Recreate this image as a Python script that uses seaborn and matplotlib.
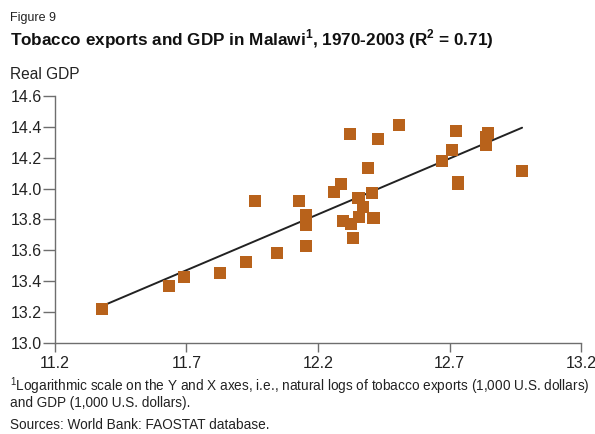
import matplotlib
matplotlib.use("Agg")
import matplotlib.pyplot as plt
import seaborn as sns
import pandas as pd

# Natural logs of tobacco exports (x) and real GDP (y), Malawi 1970-2003
tobacco_exports = [
    11.377, 11.634, 11.689, 11.827, 11.926, 11.959, 12.044, 12.128,
    12.155, 12.155, 12.155, 12.261, 12.289, 12.296, 12.327, 12.334,
    12.322, 12.354, 12.372, 12.357, 12.391, 12.404, 12.411, 12.429,
    12.509, 12.670, 12.710, 12.723, 12.732, 12.732, 12.838, 12.838,
    12.848, 12.976,
]
real_gdp = [
    13.218, 13.368, 13.426, 13.452, 13.521, 13.921, 13.580, 13.917,
    13.827, 13.762, 13.627, 13.980, 14.029, 13.789, 13.770, 13.677,
    14.353, 13.937, 13.878, 13.817, 14.135, 13.969, 13.811, 14.323,
    14.410, 14.178, 14.250, 14.373, 14.045, 14.030, 14.335, 14.285,
    14.358, 14.115,
]

x_ticks = [11.2, 11.7, 12.2, 12.7, 13.2]
y_ticks = [13.0, 13.2, 13.4, 13.6, 13.8, 14.0, 14.2, 14.4, 14.6]

df = pd.DataFrame({"exports": tobacco_exports, "gdp": real_gdp})

sns.set_style("white")
plt.rcParams["font.family"] = ["Liberation Sans", "DejaVu Sans"]

fig = plt.figure(figsize=(5.95, 4.34), dpi=100)
ax = fig.add_axes([0.0924, 0.2104, 0.8841, 0.5684])

marker_color = "#B8621B"
axis_color = "#6e6e6e"

sns.regplot(data=df, x="exports", y="gdp", ax=ax, scatter=False, ci=None,
            line_kws={"color": "#222222", "linewidth": 1.4, "zorder": 2})
sns.scatterplot(data=df, x="exports", y="gdp", ax=ax, marker="s", s=75,
                color=marker_color, edgecolor="none", linewidth=0, zorder=3)

ax.set_xlim(11.2, 13.2)
ax.set_ylim(13.0, 14.6)
ax.set_xticks(x_ticks)
ax.set_xticklabels([f"{v:.1f}" for v in x_ticks])
ax.set_yticks(y_ticks)
ax.set_yticklabels([f"{v:.1f}" for v in y_ticks])
ax.set_xlabel("")
ax.set_ylabel("")

for side in ("top", "right"):
    ax.spines[side].set_visible(False)
for side in ("left", "bottom"):
    ax.spines[side].set_color(axis_color)
    ax.spines[side].set_linewidth(1.0)

ax.tick_params(axis="y", direction="out", length=8.5, width=1.0,
               color=axis_color, labelsize=11.5, pad=1, labelcolor="#222222")
ax.tick_params(axis="x", direction="out", length=6.5, width=1.0,
               color=axis_color, labelsize=11.5, pad=3, labelcolor="#222222")
ax.tick_params(left=True, bottom=True)

fig.text(0.017, 0.958, "Figure 9", fontsize=9, color="#222222", va="center")
fig.text(0.017, 0.910,
         r"Tobacco exports and GDP in Malawi$^{\mathregular{1}}$, 1970-2003 (R$^{\mathregular{2}}$ = 0.71)",
         fontsize=12.3, fontweight="bold", color="#111111", va="center")
fig.text(0.017, 0.829, "Real GDP", fontsize=11.2, color="#222222", va="center")

fig.text(0.017, 0.111,
         r"$^{\mathregular{1}}$Logarithmic scale on the Y and X axes, i.e., natural logs of tobacco exports (1,000 U.S. dollars)",
         fontsize=9.8, color="#222222", va="center")
fig.text(0.017, 0.071, "and GDP (1,000 U.S. dollars).",
         fontsize=9.8, color="#222222", va="center")
fig.text(0.017, 0.021, "Sources: World Bank: FAOSTAT database.",
         fontsize=9.8, color="#222222", va="center")

fig.savefig("out.png", dpi=100)
